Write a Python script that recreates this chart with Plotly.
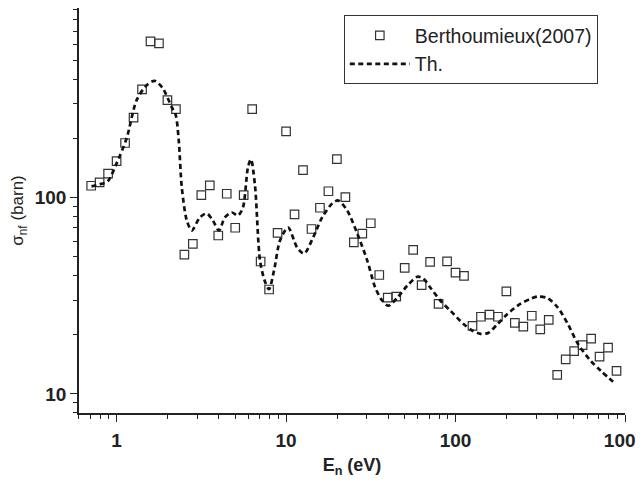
import plotly.graph_objects as go

# Experimental data (Berthoumieux 2007)
exp_E = [0.708, 0.794, 0.891, 1.000, 1.122, 1.259, 1.413, 1.585, 1.778, 1.995,
         2.239, 2.512, 2.818, 3.162, 3.548, 3.981, 4.467, 5.012, 5.623, 6.310,
         7.079, 7.943, 8.913, 10.0, 11.22, 12.59, 14.13, 15.85, 17.78, 19.95,
         22.39, 25.12, 28.18, 31.62, 35.48, 39.81, 44.67, 50.12, 56.23, 63.10,
         70.79, 79.43, 89.13, 100.0, 112.2, 125.9, 141.3, 158.5, 177.8, 199.5,
         223.9, 251.2, 281.8, 316.2, 354.8, 398.1, 446.7, 501.2, 562.3, 631.0,
         707.9, 794.3, 891.3]
exp_sigma = [114.7, 119.3, 132.1, 153.2, 189.2, 255.0, 354.4, 623.0, 608.4, 312.6,
             281.2, 51.2, 58.0, 102.7, 115.1, 64.0, 104.4, 70.1, 102.7, 281.2,
             47.2, 34.0, 66.0, 217.1, 81.9, 137.8, 69.1, 88.6, 107.5, 156.8,
             100.4, 59.1, 65.5, 73.9, 40.3, 30.9, 31.3, 43.8, 54.1, 35.8,
             47.0, 28.7, 47.3, 41.4, 39.9, 22.2, 24.7, 25.3, 24.7, 33.3,
             23.0, 22.0, 25.0, 21.3, 23.8, 12.5, 15.0, 16.5, 17.7, 19.1,
             15.5, 17.2, 13.1]

# Theory curve
th_E = [0.711, 0.793, 0.885, 1.0, 1.146, 1.313, 1.505, 1.679, 1.872, 2.116,
        2.234, 2.327, 2.425, 2.596, 2.778, 3.098, 3.408, 3.698, 4.015, 4.356,
        4.79, 5.2, 5.567, 5.958, 6.208, 6.556, 7.02, 7.51, 7.93, 8.49,
        9.21, 10.28, 11.62, 12.78, 14.44, 16.33, 18.72, 20.3, 22.96, 26.31,
        30.15, 33.62, 36.98, 40.13, 45.4, 52.0, 59.6, 64.7, 71.1, 81.5,
        93.4, 111.5, 126.1, 140.6, 156.8, 177.2, 203.0, 242.4, 277.8, 305.6,
        350.3, 401.5, 460.0, 527.0, 629.0, 721.0, 884.8]
th_sigma = [113.8, 116.5, 120.7, 149.0, 200.0, 312.6, 372.8, 392.0, 359.7, 287.9,
            262.0, 195.3, 112.5, 76.3, 67.9, 79.1, 82.9, 76.3, 67.9, 79.1,
            83.8, 80.9, 88.9, 142.3, 156.3, 115.2, 47.7, 37.3, 34.1, 42.4,
            60.3, 70.3, 55.6, 51.8, 62.5, 79.1, 93.2, 96.5, 85.8, 65.5,
            47.7, 34.7, 29.8, 28.1, 30.9, 35.6, 39.5, 38.6, 34.7, 29.8,
            26.5, 22.7, 20.96, 20.2, 20.5, 22.7, 25.6, 28.8, 30.5, 31.3,
            30.7, 27.5, 22.7, 18.0, 14.7, 13.1, 11.2]

x_ticks = [1, 10, 100, 1000]
x_ticktext = ["1", "10", "100", "1000"]
y_ticks = [10, 100]
y_ticktext = ["10", "100"]
x_minor = [0.6, 0.7, 0.8, 0.9, 2, 3, 4, 5, 6, 7, 8, 9, 20, 30, 40, 50, 60, 70, 80, 90,
           200, 300, 400, 500, 600, 700, 800, 900]
y_minor = [8, 9, 20, 30, 40, 50, 60, 70, 80, 90, 200, 300, 400, 500, 600, 700, 800, 900]

FONT = "Liberation Sans, Arial, sans-serif"

fig = go.Figure()
fig.add_trace(go.Scatter(
    x=exp_E, y=exp_sigma, mode="markers", name="Berthoumieux(2007)",
    marker=dict(symbol="square-open", size=8.5, color="#333333", line=dict(width=1.2)),
))
fig.add_trace(go.Scatter(
    x=th_E, y=th_sigma, mode="lines", name="Th.",
    line=dict(color="#111111", width=2.7, dash="5px,3.5px", shape="spline", smoothing=0.8),
))

axis_common = dict(
    showline=True, linecolor="#222222", linewidth=1.6,
    ticks="outside", ticklen=7, tickwidth=1.4, tickcolor="#222222",
    showgrid=False, zeroline=False, mirror=False,
    tickfont=dict(family=FONT, size=19, color="#222222", weight="bold"),
)

# page body has an 8px default margin, so the figure is offset by 8px
fig.update_layout(
    width=635, height=474,
    margin=dict(l=71, r=18, t=0, b=69),
    paper_bgcolor="white", plot_bgcolor="white",
    font=dict(family=FONT, color="#222222"),
    showlegend=True,
    legend=dict(
        x=0.485, y=0.982, xanchor="left", yanchor="top",
        bordercolor="#333333", borderwidth=1, bgcolor="white",
        font=dict(family=FONT, size=19.5, color="#222222"),
        tracegroupgap=0, itemwidth=60,
    ),
    xaxis=dict(
        type="log", range=[-0.2218, 3.0],
        tickmode="array", tickvals=x_ticks, ticktext=x_ticktext,
        minor=dict(tickmode="array", tickvals=x_minor, ticks="outside", ticklen=4,
                   tickwidth=1.2, tickcolor="#222222", showgrid=False),
        title=dict(text="E<sub>n</sub> (eV)", standoff=9,
                   font=dict(family=FONT, size=18, color="#222222", weight="bold")),
        automargin=False, ticklabelstandoff=2, ticklabeloverflow="allow",
        **axis_common,
    ),
    yaxis=dict(
        type="log", range=[0.903, 2.964],
        tickmode="array", tickvals=y_ticks, ticktext=y_ticktext,
        minor=dict(tickmode="array", tickvals=y_minor, ticks="outside", ticklen=4,
                   tickwidth=1.2, tickcolor="#222222", showgrid=False),
        title=dict(text="σ<sub>nf</sub> (barn)", standoff=8,
                   font=dict(family=FONT, size=17, color="#222222")),
        automargin=False,
        **axis_common,
    ),
)

fig.write_html("out.html")
